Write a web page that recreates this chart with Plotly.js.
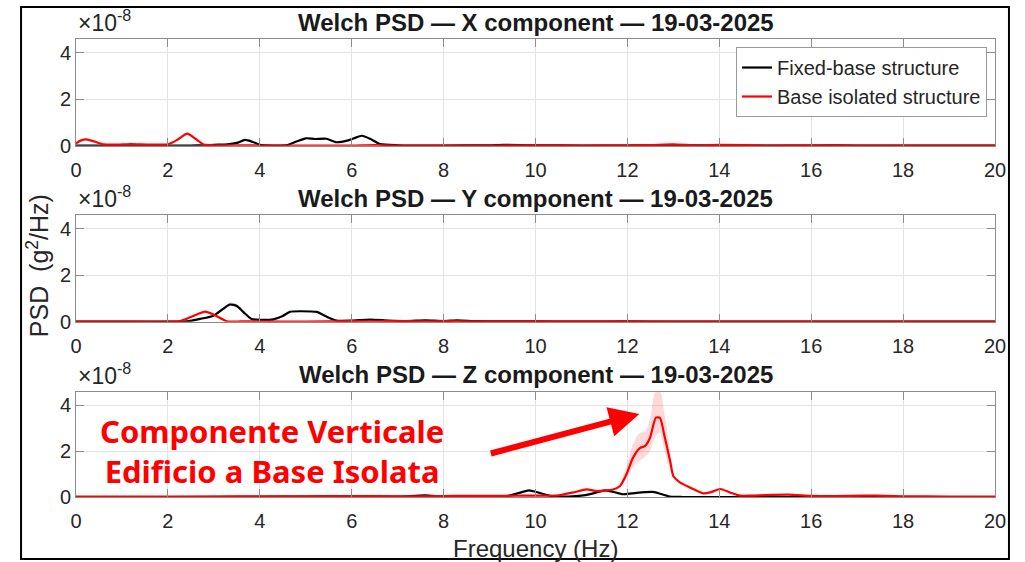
<!DOCTYPE html>
<html>
<head>
<meta charset="utf-8">
<script src="https://cdn.plot.ly/plotly-3.0.1.min.js"></script>
<style>html,body{margin:0;padding:0;background:#fff;}#chart{width:1025px;height:562px;}</style>
</head>
<body>
<div id="chart"></div>
<script>
// ---------- Data (PSD values in units of 1e-8 g^2/Hz) ----------
// X component
var fxFixed = [0,0.5,1,1.5,2,2.5,2.8,3.0,3.3,3.5,3.68,3.85,4.0,4.3,4.6,4.8,5.0,5.2,5.45,5.67,5.9,6.05,6.22,6.4,6.62,7.0,7.5,8,9,9.3,10,11,12,13,14,15,16,17,18,19,20];
var pxFixed = [0,0,0,0,0.01,0.01,0.02,0.04,0.06,0.12,0.25,0.16,0.04,0.01,0.03,0.18,0.32,0.29,0.30,0.15,0.22,0.32,0.43,0.30,0.07,0.02,0.01,0.01,0.02,0.04,0.02,0.01,0.01,0.02,0.01,0.01,0.01,0.01,0,0,0];
var fxIso = [0,0.1,0.22,0.4,0.6,0.9,1.2,1.6,2.0,2.2,2.42,2.6,2.78,3.0,4,5,6,6.5,7,8,9,10,11,12,12.5,13,13.5,14,15,16,17,18,19,20];
var pxIso = [0.10,0.22,0.27,0.18,0.06,0.05,0.07,0.05,0.06,0.25,0.52,0.30,0.05,0.02,0.01,0.01,0.01,0.03,0.01,0.01,0.01,0.02,0.01,0.02,0.03,0.06,0.02,0.04,0.01,0.02,0.01,0.01,0.01,0.01];

// Y component
var fyFixed = [0,1,2,2.41,2.7,2.99,3.2,3.35,3.5,3.65,3.82,4.0,4.29,4.5,4.66,4.9,5.24,5.45,5.67,6.0,6.4,6.8,7.2,7.6,8.0,8.3,8.7,9.2,10,11,12,13,14,15,16,17,18,19,20];
var pyFixed = [0,0,0,0.01,0.12,0.26,0.55,0.74,0.68,0.40,0.12,0.08,0.10,0.25,0.43,0.45,0.42,0.22,0.05,0.05,0.09,0.05,0.03,0.06,0.03,0.06,0.02,0.01,0.01,0,0.01,0,0,0,0,0,0,0,0];
var fyIso = [0,1,2,2.26,2.5,2.81,3.0,3.28,3.6,4,5,6,6.5,7,7.5,8,9,10,12,14,16,18,20];
var pyIso = [0,0,0,0.03,0.20,0.43,0.30,0.02,0.01,0.01,0,0.02,0.01,0.03,0.01,0.02,0.01,0.01,0.01,0,0,0,0];
// Y component, confidence band of the fixed-base curve
var fyBand = [2.99,3.2,3.35,3.5,3.65];
var pyBandHi = [0.30,0.62,0.83,0.76,0.45];
var pyBandLo = [0.22,0.48,0.66,0.60,0.35];

// Z component
var fzFixed = [0,2,4,5,6,7,7.6,8,9,9.4,9.65,9.86,10.05,10.32,10.6,10.8,11.04,11.3,11.51,11.7,11.9,12.1,12.3,12.56,12.75,12.93,13.2,14,15,16,17,18,19,20];
var pzFixed = [0,0,0.01,0.02,0.03,0.02,0.07,0.02,0.02,0.05,0.18,0.29,0.20,0.05,0.02,0.03,0.07,0.18,0.29,0.22,0.12,0.16,0.20,0.22,0.12,0.02,0,0,0,0,0,0,0,0];
var fzIso = [0,1,2,3,4,5,6,7,8,8.5,9,9.37,9.7,10.03,10.46,10.82,11.11,11.33,11.5,11.69,11.84,11.98,12.12,12.27,12.38,12.49,12.62,12.71,12.8,12.93,13.0,13.15,13.36,13.65,13.8,14.02,14.23,14.45,14.7,15.0,15.5,16.0,16.5,17.2,17.6,18,19,20];
var pzIso = [0.02,0.02,0.02,0.02,0.03,0.03,0.04,0.03,0.04,0.05,0.05,0.05,0.06,0.06,0.06,0.20,0.33,0.26,0.28,0.33,0.48,0.99,1.71,2.14,2.22,2.58,3.47,3.45,2.73,1.57,0.92,0.63,0.42,0.16,0.20,0.35,0.20,0.06,0.06,0.08,0.10,0.05,0.04,0.06,0.05,0.03,0.02,0.02];
// Z component, confidence band of the base-isolated curve
var fzBand = [11.84,11.98,12.12,12.27,12.38,12.49,12.62,12.71,12.8,12.93,13.0];
var pzBandHi = [0.60,1.30,2.30,2.80,2.85,3.40,4.60,4.60,3.70,2.00,1.10];
var pzBandLo = [0.40,0.80,1.30,1.60,1.75,2.00,2.70,2.80,2.10,1.20,0.80];

var seriesNames = ['Fixed-base structure', 'Base isolated structure'];
var titles = ['Welch PSD — X component — 19-03-2025', 'Welch PSD — Y component — 19-03-2025', 'Welch PSD — Z component — 19-03-2025'];
var noteLines = ['Componente Verticale', 'Edificio a Base Isolata'];
var xTickVals = [0,2,4,6,8,10,12,14,16,18,20];
var yTickVals = [0,2,4];

// ---------- Traces ----------
var BLACK = '#000000', RED = '#ff0000';
function line(x, y, ax, color, name, show) {
  return {x: x, y: y, xaxis: 'x' + ax, yaxis: 'y' + ax, type: 'scatter', mode: 'lines',
    line: {color: color, width: 2.2, shape: 'spline', smoothing: 0.6}, name: name,
    legendgroup: name, showlegend: show, hoverinfo: 'skip'};
}
function band(x, hi, lo, ax, fill) {
  return [
    {x: x, y: hi, xaxis: 'x' + ax, yaxis: 'y' + ax, type: 'scatter', mode: 'lines',
      line: {width: 0, shape: 'spline'}, showlegend: false, hoverinfo: 'skip'},
    {x: x, y: lo, xaxis: 'x' + ax, yaxis: 'y' + ax, type: 'scatter', mode: 'lines',
      line: {width: 0, shape: 'spline'}, fill: 'tonexty', fillcolor: fill, showlegend: false, hoverinfo: 'skip'}
  ];
}
var data = [];
data = data.concat(band(fyBand, pyBandHi, pyBandLo, '2', 'rgba(0,0,0,0.13)'));
data = data.concat(band(fzBand, pzBandHi, pzBandLo, '3', 'rgba(255,0,0,0.15)'));
data.push(line(fxFixed, pxFixed, '', BLACK, seriesNames[0], true));
data.push(line(fxIso, pxIso, '', RED, seriesNames[1], true));
data.push(line(fyFixed, pyFixed, '2', BLACK, seriesNames[0], false));
data.push(line(fyIso, pyIso, '2', RED, seriesNames[1], false));
data.push(line(fzFixed, pzFixed, '3', BLACK, seriesNames[0], false));
data.push(line(fzIso, pzIso, '3', RED, seriesNames[1], false));

// ---------- Layout ----------
var FONT = 'Liberation Sans, Arial, sans-serif';
var AXC = '#8c8c8c';
function xax(anchor) {
  return {anchor: anchor, range: [0, 20], tickvals: xTickVals, ticktext: xTickVals.map(String),
    showgrid: true, gridcolor: '#e4e4e4', gridwidth: 1, zeroline: false,
    showline: true, linecolor: AXC, linewidth: 1, mirror: 'ticks', ticks: 'inside', ticklen: 8, tickcolor: AXC,
    ticklabelstandoff: 6,
    tickfont: {family: FONT, size: 20, color: '#262626'}, fixedrange: true};
}
function yax(dom, anchor) {
  return {anchor: anchor, domain: dom, range: [0, 4.6], tickvals: yTickVals, ticktext: yTickVals.map(String),
    showgrid: true, gridcolor: '#e4e4e4', gridwidth: 1, zeroline: false,
    showline: true, linecolor: AXC, linewidth: 1, mirror: 'ticks', ticks: 'inside', ticklen: 8, tickcolor: AXC,
    tickfont: {family: FONT, size: 20, color: '#262626'}, fixedrange: true};
}

var annotations = [];
var yrefs = ['y domain', 'y2 domain', 'y3 domain'];
for (var i = 0; i < 3; i++) {
  annotations.push({text: '<b>' + titles[i] + '</b>', xref: 'paper', x: 0.5, yref: yrefs[i], y: 1,
    yanchor: 'middle', xanchor: 'center', yshift: 17, showarrow: false,
    font: {family: FONT, size: 24, color: '#1a1a1a'}});
  annotations.push({text: '×10<sup>-8</sup>', xref: 'paper', x: 0, yref: yrefs[i], y: 1,
    yanchor: 'middle', xanchor: 'left', yshift: 18, showarrow: false,
    font: {family: FONT, size: 23, color: '#262626'}});
}
annotations.push({text: 'PSD  (g<sup>2</sup>/Hz)', xref: 'paper', x: -0.0419, yref: 'paper', y: 0.505,
  textangle: -90, showarrow: false, xanchor: 'center', yanchor: 'middle',
  font: {family: FONT, size: 25, color: '#262626'}});
annotations.push({text: 'Frequency (Hz)', xref: 'paper', x: 0.5, yref: 'paper', y: -0.1114,
  showarrow: false, xanchor: 'center', yanchor: 'middle',
  font: {family: FONT, size: 24, color: '#262626'}});
annotations.push({text: '<b>' + noteLines[0] + '<br>' + noteLines[1] + '</b>', xref: 'paper', x: 0.2133,
  yref: 'paper', y: (497 - 451) / 458, showarrow: false, xanchor: 'center', yanchor: 'middle', align: 'center',
  font: {family: 'Noto Sans, sans-serif', size: 31, color: RED}});
annotations.push({text: '', xref: 'x3', yref: 'y3', x: 12.26, y: 3.63, ax: -150, ay: 40,
  showarrow: true, arrowcolor: RED, arrowwidth: 6, arrowhead: 2, arrowsize: 1, standoff: 0});

var layout = {
  width: 1025, height: 562,
  margin: {l: 76, r: 30, t: 39, b: 65},
  paper_bgcolor: '#ffffff', plot_bgcolor: '#ffffff',
  font: {family: FONT, color: '#262626'},
  xaxis: xax('y'), xaxis2: xax('y2'), xaxis3: xax('y3'),
  yaxis: yax([0.767, 1], 'x'), yaxis2: yax([0.3828, 0.6157], 'x2'), yaxis3: yax([0, 0.2299], 'x3'),
  showlegend: true,
  legend: {x: 0.9913, xanchor: 'right', y: 0.9825, yanchor: 'top', bgcolor: '#ffffff',
    bordercolor: '#9a9a9a', borderwidth: 1, font: {family: FONT, size: 20, color: '#262626'},
    tracegroupgap: 0, itemwidth: 30},
  annotations: annotations,
  shapes: [{type: 'rect', xref: 'paper', yref: 'paper', x0: -0.0598, x1: 1.0152, y0: -0.1354, y1: 1.0699,
    line: {color: '#000000', width: 2}, fillcolor: 'rgba(0,0,0,0)'}]
};

Plotly.newPlot('chart', data, layout, {displayModeBar: false, staticPlot: true});
</script>
</body>
</html>
